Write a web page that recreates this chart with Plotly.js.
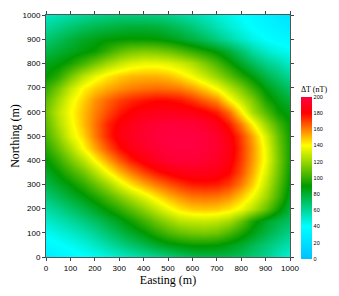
<!DOCTYPE html>
<html>
<head>
<meta charset="utf-8">
<script src="https://cdn.plot.ly/plotly-3.0.1.min.js"></script>
<style>html,body{margin:0;padding:0;background:#fff;}#chart{width:339px;height:296px;}</style>
</head>
<body>
<div id="chart"></div>
<script>
// Grid nodes (m)
const easting  = [0,50,100,150,200,250,300,350,400,450,500,550,600,650,700,750,800,850,900,950,1000];
const northing = [0,50,100,150,200,250,300,350,400,450,500,550,600,650,700,750,800,850,900,950,1000];
// ΔT (nT), one row per northing value (west -> east)
const dT_n0    = [28,32,36,39,42,46,50,54,58,62,66,70,74,76,76,75,72,67,62,54,47];
const dT_n50   = [35,39,42,46,51,57,63,69,75,81,86,89,91,91,90,86,81,74,67,61,55];
const dT_n100  = [42,46,50,55,61,68,75,82,89,97,104,109,112,113,111,104,95,86,77,70,63];
const dT_n150  = [50,54,59,65,71,78,85,93,102,111,119,126,128,129,127,122,110,94,83,76,71];
const dT_n200  = [58,63,69,76,83,91,99,108,118,128,137,144,148,149,148,144,137,125,110,93,78];
const dT_n250  = [67,73,80,87,95,104,114,124,134,143,151,157,161,162,161,157,148,137,121,103,84];
const dT_n300  = [76,83,90,99,110,121,134,145,154,161,167,172,176,177,176,171,161,147,128,108,88];
const dT_n350  = [83,91,101,112,125,139,151,161,170,177,182,186,188,188,186,180,168,152,133,112,91];
const dT_n400  = [90,100,113,126,141,154,166,176,184,190,195,197,197,195,191,184,171,155,137,114,93];
const dT_n450  = [97,110,124,140,154,167,178,186,192,196,199,200,200,198,194,186,172,156,136,113,93];
const dT_n500  = [104,118,134,146,161,174,184,190,195,198,200,200,200,198,193,184,170,153,132,110,92];
const dT_n550  = [108,124,137,150,162,174,182,188,193,196,198,198,197,194,187,176,160,141,120,103,90];
const dT_n600  = [112,127,139,150,160,168,176,181,185,187,188,187,185,181,175,163,143,122,106,92,86];
const dT_n650  = [108,122,136,147,157,164,170,174,177,179,179,177,172,165,158,142,128,114,95,86,79];
const dT_n700  = [100,113,128,141,148,153,157,160,162,163,162,160,155,147,138,126,114,100,87,78,70];
const dT_n750  = [90,98,112,126,136,143,148,151,152,152,150,145,138,129,119,108,97,87,76,68,60];
const dT_n800  = [85,88,94,103,112,121,128,133,136,136,134,130,124,114,104,93,82,72,63,57,50];
const dT_n850  = [76,80,84,88,92,100,108,113,115,114,111,106,100,94,88,79,69,58,50,45,42];
const dT_n900  = [68,73,78,83,86,89,90,91,91,90,87,83,78,72,65,58,51,45,40,37,35];
const dT_n950  = [60,64,68,72,75,77,79,80,80,79,76,72,67,61,55,49,44,39,35,31,28];
const dT_n1000 = [52,55,58,61,63,65,66,66,66,65,63,60,57,53,48,44,40,35,31,26,22];
const tickVals = [0,100,200,300,400,500,600,700,800,900,1000];
const cbTicks  = [0,20,40,60,80,100,120,140,160,180,200];

const z = [dT_n0,dT_n50,dT_n100,dT_n150,dT_n200,dT_n250,dT_n300,dT_n350,dT_n400,dT_n450,dT_n500,
           dT_n550,dT_n600,dT_n650,dT_n700,dT_n750,dT_n800,dT_n850,dT_n900,dT_n950,dT_n1000];

const colorscale = [
  [0, '#00BFFF'], [0.2, '#00FFFF'], [0.45, '#009A00'],
  [0.7, '#FFFF00'], [0.9, '#FF0000'], [1, '#FF0040']
];

const trace = {
  type: 'heatmap',
  x: easting, y: northing, z: z,
  zsmooth: 'best',
  zmin: 0, zmax: 200,
  colorscale: colorscale,
  colorbar: {
    x: 1.045, xanchor: 'left', xpad: 0,
    y: -0.008, yanchor: 'bottom', ypad: 0,
    len: 176, lenmode: 'pixels',
    thickness: 11, thicknessmode: 'pixels',
    outlinewidth: 0,
    tickvals: cbTicks, ticktext: cbTicks.map(String),
    ticks: '', ticklabelpad: 1,
    tickfont: {family: 'Liberation Sans, Arial', size: 5.5, color: '#000'},
    title: {text: 'ΔT (nT)', side: 'top', font: {family: 'Liberation Serif, Times New Roman', size: 8, color: '#000'}}
  }
};

const axisCommon = {
  range: [0, 1000], tickvals: tickVals, ticktext: tickVals.map(String),
  ticks: 'outside', ticklen: 3, tickwidth: 1, tickcolor: '#444',
  showline: true, linecolor: '#555', linewidth: 1, mirror: 'ticks',
  showgrid: false, zeroline: false,
  tickfont: {family: 'Liberation Sans, Arial', size: 8, color: '#000'}
};

const layout = {
  width: 339, height: 296,
  margin: {l: 46, r: 49, t: 15, b: 39, pad: 0, autoexpand: false},
  paper_bgcolor: '#fff', plot_bgcolor: '#fff',
  xaxis: Object.assign({}, axisCommon, {
    title: {text: 'Easting (m)', font: {family: 'Liberation Serif, Times New Roman', size: 12, color: '#000'}, standoff: 4}
  }),
  yaxis: Object.assign({}, axisCommon, {
    title: {text: 'Northing (m)', font: {family: 'Liberation Serif, Times New Roman', size: 12, color: '#000'}, standoff: 0}
  }),
  showlegend: false
};

Plotly.newPlot('chart', [trace], layout, {displayModeBar: false, staticPlot: true});
</script>
</body>
</html>
